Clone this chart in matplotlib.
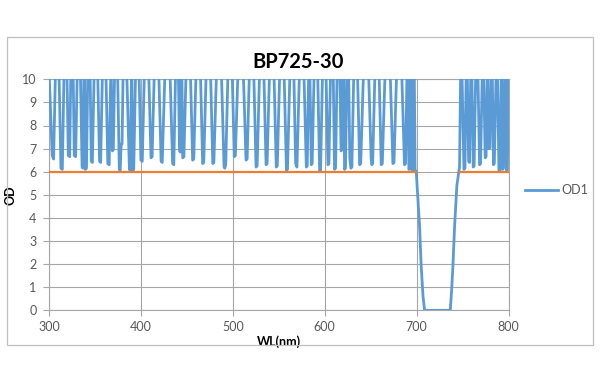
"""OD spectrum of the BP725-30 band-pass filter, Excel-style chart."""

import matplotlib

matplotlib.use("Agg")
import matplotlib.pyplot as plt
from matplotlib.lines import Line2D
from matplotlib.patches import Rectangle

# ---------------------------------------------------------------------------
# Data (values above 10 run off the top).
# ---------------------------------------------------------------------------
wl = [
    300, 303.5, 305, 309, 313, 314.5, 318, 321, 322.5, 325, 327.5, 329, 332.5,
    336, 337, 338.3, 339.5, 340.8, 343.5, 346, 347.2, 351, 355, 356.2, 360,
    364, 365.5, 367.5, 369, 370, 373, 376.5, 377.5, 378.5, 379.5, 382,
    387.5, 388.5, 390, 391.2, 392.2, 396, 400, 401.5, 406, 411, 412.2, 417,
    422, 423.2, 429, 434.5, 435.8, 439.5, 442, 443, 444.2, 445.5, 446.8, 451.5,
    456.3, 457.5, 462.5, 467.2, 468.4, 473.5, 478.2, 479.4, 485,
    490.5, 491.2, 492.3, 497, 501.6, 502.8, 508.5, 514.4, 515.6, 520.5,
    525.3, 526.5, 531.5, 536.2, 537.3, 542.5, 547.3, 548.4, 553.5,
    558.4, 559.5, 564.5, 568.4, 569.8, 575, 580, 581, 583.2, 585.4, 586.4, 590.5,
    594.5, 595.5, 599.5, 603.5, 604.6, 608, 610.7, 611.8, 615,
    617.8, 618.8, 620.3, 621.6, 622.6, 625.2, 627.3, 628.5, 629.6, 633.5,
    638, 639.2, 645, 650.5, 651.2, 652.2, 657, 661.5, 662.7, 668.5,
    674.2, 675.4, 681, 686.8, 688, 690.2, 691.6, 692.6, 693.8, 695, 696, 697.2,
    698.3, 699.6, 701.5, 703.3, 705, 707, 708.7, 722, 736.6, 738, 739.5,
    741.3, 743.8, 746.7, 748.5,
    751.5, 752.6, 754.5, 756.6, 757.6, 759.5, 761.6, 762.6, 765.5,
    768.5, 769.6, 772.3, 774.6, 775.6, 777.2, 778.6, 779.8, 781.8,
    783.6, 784.6, 787.3, 789.6, 790.6, 792.3, 793.6, 794.6, 796.3,
    797.8, 798.8, 800,
]
od = [
    10.4, 6.7, 6.55, 14, 6.15, 6.1, 14, 6.7, 6.65, 14, 6.7, 6.65, 14,
    6.2, 6.15, 12, 6.1, 6.15, 14, 6.45, 6.4, 14, 6.45, 6.4, 14,
    6.35, 6.3, 11, 6.9, 6.95, 14, 6.1, 6.05, 7.2, 7.2, 14,
    6.1, 6.05, 11, 6.05, 6.1, 14, 6.5, 6.45, 14, 6.6, 6.65, 14,
    6.45, 6.4, 14, 6.35, 6.3, 14, 6.9, 6.85, 12, 6.6, 6.65, 14,
    6.5, 6.55, 14, 6.35, 6.4, 14, 6.35, 6.4, 14,
    6.2, 6.15, 6.3, 14, 6.65, 6.7, 14, 6.5, 6.55, 14,
    6.2, 6.25, 14, 6.3, 6.35, 14, 6.2, 6.25, 14,
    6.05, 6.1, 14, 6.35, 6.2, 14, 6.2, 6.25, 12, 6.3, 6.35, 14,
    6.0, 6.05, 14, 6.3, 6.35, 14, 6.1, 6.15, 14,
    6.9, 6.95, 12, 6.1, 6.15, 13, 6.6, 6.15, 6.2, 14,
    6.3, 6.35, 14, 6.6, 6.3, 6.35, 14, 6.3, 6.35, 14,
    6.35, 6.4, 14, 6.3, 6.35, 12, 6.1, 6.15, 12, 6.0, 6.05, 12,
    6.1, 6.0, 4.8, 3.6, 1.9, 0.6, 0.0, 0.0, 0.0, 0.8, 1.9,
    3.6, 5.4, 6.2, 12,
    6.1, 6.15, 12, 6.45, 6.4, 12, 6.2, 6.25, 13,
    6.3, 6.35, 12, 6.6, 6.65, 11, 7.0, 7.05, 12,
    6.3, 6.35, 12, 6.0, 6.05, 11, 6.1, 6.15, 12,
    6.0, 6.05, 10.5,
]

# Blocking specification (OD 6 outside the pass band)
spec_wl = [300, 699.6, None, 746.7, 800]
spec_od = [6, 6, None, 6, 6]

x_ticks = [300, 400, 500, 600, 700, 800]
y_ticks = list(range(0, 11))

BLUE = "#5b9bd5"
ORANGE = "#ed7d31"
GRID = "#a6a6a6"
TEXT = "#595959"

plt.rcParams["font.family"] = ["Lato", "DejaVu Sans"]

fig = plt.figure(figsize=(6.0, 3.83), dpi=100)
ax = fig.add_axes([49 / 600, 1 - 310.3 / 383, 459.5 / 600, 231 / 383])

ax.plot(wl, od, color=BLUE, lw=2.0, solid_joinstyle="round", zorder=3)
spec = [float("nan") if v is None else v for v in spec_od]
spec_x = [float("nan") if v is None else v for v in spec_wl]
ax.plot(spec_x, spec, color=ORANGE, lw=1.6, zorder=4)

ax.set_xlim(300, 800)
ax.set_ylim(0, 10)
ax.set_xticks(x_ticks)
ax.set_yticks(y_ticks)
ax.grid(True, color=GRID, lw=0.8)
ax.set_axisbelow(True)
for side in ax.spines:
    ax.spines[side].set_color(GRID)
    ax.spines[side].set_linewidth(0.8)
ax.tick_params(axis="both", colors=GRID, labelcolor=TEXT, labelsize=9, length=4, width=0.8)
ax.tick_params(axis="y", pad=5)
ax.tick_params(axis="x", pad=4)

ax.set_xlabel("WL(nm)", fontsize=9, fontweight="bold")
ax.set_ylabel("OD", fontsize=9, fontweight="bold")
ax.xaxis.set_label_coords(0.5, -0.107)
ax.yaxis.set_label_coords(-0.07, 0.5)

fig.text(0.497, 0.838, "BP725-30", ha="center", va="center", fontsize=14.5, fontweight="bold")

handle = Line2D([], [], color=BLUE, lw=2.0)
fig.legend([handle], ["OD1"], loc="center left", bbox_to_anchor=(0.875, 0.504),
           frameon=False, fontsize=9, handlelength=2.6, handletextpad=0.3,
           borderpad=0, borderaxespad=0, labelcolor=TEXT)

fig.patches.append(Rectangle((6.5 / 600, 1 - 345 / 383), 586.5 / 600, 307.7 / 383,
                             transform=fig.transFigure, fill=False,
                             edgecolor="#bfbfbf", lw=0.9))

fig.savefig("out.png", dpi=100)
